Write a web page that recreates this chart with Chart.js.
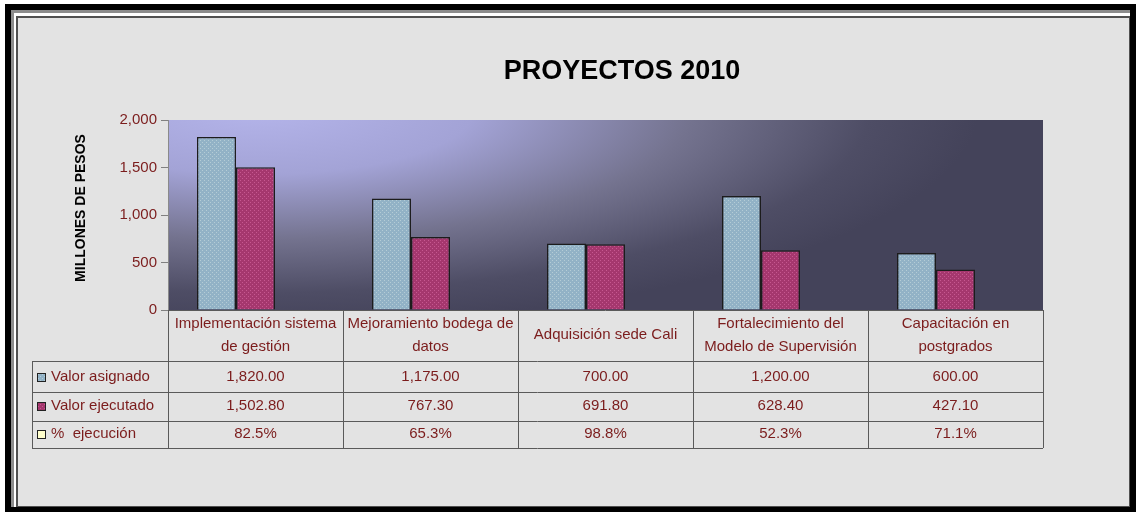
<!DOCTYPE html>
<html>
<head>
<meta charset="utf-8">
<script src="https://cdn.jsdelivr.net/npm/chart.js@4"></script>
<style>
  html, body { margin: 0; padding: 0; background: #ffffff; }
  canvas { display: block; }
</style>
</head>
<body>
<canvas id="graficoProyectos" width="1137" height="515"></canvas>
<script>
// --- DATOS ---
const categorias = [
  ['Implementación sistema', 'de gestión'],
  ['Mejoramiento bodega de', 'datos'],
  ['Adquisición sede Cali'],
  ['Fortalecimiento del', 'Modelo de Supervisión'],
  ['Capacitación en', 'postgrados']
];
const valorAsignado = [1820, 1175, 700, 1200, 600];
const valorEjecutado = [1502.8, 767.3, 691.8, 628.4, 427.1];
// % de ejecucion como fraccion (en la grafica es una barra casi invisible)
const porcentajeEjecucion = [0.825, 0.653, 0.988, 0.523, 0.711];
const nombresSeries = ['Valor asignado', 'Valor ejecutado', '%  ejecución'];
const ticksY = [0, 500, 1000, 1500, 2000];

const FUENTE = '"Liberation Sans", Arial, sans-serif';
const ROJO_TEXTO = '#7b1c1c';

function formatoMiles(n, dec) {
  const partes = n.toFixed(dec).split('.');
  partes[0] = partes[0].replace(/\B(?=(\d{3})+(?!\d))/g, ',');
  return partes.join('.');
}

// trama punteada de las barras (estilo Excel)
function trama(base, punto) {
  const c = document.createElement('canvas');
  c.width = 4; c.height = 4;
  const g = c.getContext('2d');
  g.fillStyle = base; g.fillRect(0, 0, 4, 4);
  g.fillStyle = punto;
  g.fillRect(0, 0, 1, 1); g.fillRect(2, 2, 1, 1);
  return g.createPattern(c, 'repeat');
}
const colorAsignado = trama('#92b2c6', '#b4ccd6');
const colorEjecutado = trama('#a5376e', '#c65890');
const colorPorcentaje = '#ffffcc';

// marco, fondo degradado, titulo y tabla de datos
const pluginExcel = {
  id: 'pluginExcel',
  beforeDraw(chart) {
    const ctx = chart.ctx;
    const a = chart.chartArea;
    ctx.save();
    ctx.fillStyle = '#ffffff'; ctx.fillRect(0, 0, 1137, 515);
    ctx.fillStyle = '#000000'; ctx.fillRect(5, 4, 1131, 508);
    ctx.fillStyle = '#8c8c8c'; ctx.fillRect(11, 10, 1119, 497);
    ctx.fillStyle = '#ffffff'; ctx.fillRect(14, 13, 1116, 494);
    ctx.fillStyle = '#505050'; ctx.fillRect(16, 16, 1114, 491);
    ctx.fillStyle = '#e3e3e3'; ctx.fillRect(18, 18, 1111, 488);

    // degradado del area de trazado
    ctx.beginPath();
    ctx.rect(a.left, a.top, a.right - a.left, a.bottom - a.top);
    ctx.clip();
    const rx = 720, ry = 215;
    ctx.translate(a.left + 90, a.top - 10);
    ctx.scale(1, ry / rx);
    const grad = ctx.createRadialGradient(0, 0, 0, 0, 0, rx);
    grad.addColorStop(0, '#b4b4ea');
    grad.addColorStop(0.3, '#a3a3d6');
    grad.addColorStop(0.6, '#74738f');
    grad.addColorStop(0.85, '#4e4d65');
    grad.addColorStop(1, '#44435a');
    ctx.fillStyle = grad;
    ctx.fillRect(-rx * 2, -rx * 2, rx * 4, rx * 4);
    ctx.restore();
  },
  afterDraw(chart) {
    const ctx = chart.ctx;
    const a = chart.chartArea;
    const x = chart.scales.x;
    const n = categorias.length;
    const ancho = (a.right - a.left) / n;
    ctx.save();

    // titulo
    ctx.fillStyle = '#000000';
    ctx.font = 'bold 27px ' + FUENTE;
    ctx.textAlign = 'center';
    ctx.textBaseline = 'middle';
    ctx.fillText('PROYECTOS 2010', 622, 72);

    // titulo del eje Y
    ctx.save();
    ctx.translate(81, 208);
    ctx.rotate(-Math.PI / 2);
    ctx.font = 'bold 14px ' + FUENTE;
    ctx.fillText('MILLONES DE PESOS', 0, 0);
    ctx.restore();

    // tabla
    const yCab = a.bottom, yF1 = 361, yF2 = 391.5, yF3 = 420.5, yFin = 448;
    const xIzq = 32;
    ctx.strokeStyle = '#5a5a5a';
    ctx.lineWidth = 1;
    ctx.beginPath();
    ctx.moveTo(a.left, yCab + 0.5); ctx.lineTo(a.right, yCab + 0.5);
    [yF1, yF2, yF3, yFin].forEach(y => {
      ctx.moveTo(xIzq, Math.round(y) + 0.5); ctx.lineTo(a.right, Math.round(y) + 0.5);
    });
    ctx.moveTo(xIzq + 0.5, yF1); ctx.lineTo(xIzq + 0.5, yFin);
    for (let i = 0; i <= n; i++) {
      const xx = Math.round(a.left + i * ancho) + 0.5;
      ctx.moveTo(xx, yCab); ctx.lineTo(xx, yFin);
    }
    ctx.stroke();

    ctx.fillStyle = ROJO_TEXTO;
    ctx.font = '15px ' + FUENTE;
    ctx.textAlign = 'center';
    ctx.textBaseline = 'middle';
    categorias.forEach((lineas, i) => {
      const cx = x.getPixelForValue(i);
      if (lineas.length === 1) {
        ctx.fillText(lineas[0], cx, 335);
      } else {
        ctx.fillText(lineas[0], cx, 324);
        ctx.fillText(lineas[1], cx, 347);
      }
      ctx.fillText(formatoMiles(valorAsignado[i], 2), cx, 377);
      ctx.fillText(formatoMiles(valorEjecutado[i], 2), cx, 406);
      ctx.fillText((porcentajeEjecucion[i] * 100).toFixed(1) + '%', cx, 434);
    });

    // leyenda de la tabla
    const filas = [377, 406, 434];
    const colores = [colorAsignado, colorEjecutado, colorPorcentaje];
    ctx.textAlign = 'left';
    filas.forEach((y, k) => {
      ctx.fillStyle = colores[k];
      ctx.fillRect(37, y - 4, 8, 8);
      ctx.strokeStyle = '#222222';
      ctx.strokeRect(37.5, y - 3.5, 8, 8);
      ctx.fillStyle = ROJO_TEXTO;
      ctx.fillText(nombresSeries[k], 51, y);
    });
    ctx.restore();
  }
};

new Chart(document.getElementById('graficoProyectos'), {
  type: 'bar',
  data: {
    labels: categorias,
    datasets: [{
      label: nombresSeries[0],
      data: valorAsignado,
      backgroundColor: colorAsignado,
      borderColor: '#1c1c1c',
      borderWidth: 1.5
    }, {
      label: nombresSeries[1],
      data: valorEjecutado,
      backgroundColor: colorEjecutado,
      borderColor: '#1c1c1c',
      borderWidth: 1.5
    }, {
      // barra de altura < 1 px: ocupa su hueco pero no se ve
      label: nombresSeries[2],
      data: porcentajeEjecucion,
      backgroundColor: 'rgba(255,255,204,0)',
      borderWidth: 0
    }]
  },
  options: {
    responsive: false,
    animation: false,
    layout: { padding: { top: 120, bottom: 205, left: 0, right: 94 } },
    datasets: { bar: { barPercentage: 1, categoryPercentage: 0.669 } },
    plugins: {
      legend: { display: false },
      title: { display: false },
      tooltip: { enabled: false }
    },
    scales: {
      x: { display: false },
      y: {
        min: 0,
        max: 2000,
        afterFit(scale) { scale.width = 168; },
        afterBuildTicks(scale) { scale.ticks = ticksY.map(v => ({ value: v })); },
        grid: { drawOnChartArea: false, drawTicks: true, tickLength: 7, color: '#808080' },
        border: { color: '#8a8a8a' },
        ticks: {
          padding: 4,
          color: ROJO_TEXTO,
          font: { family: FUENTE, size: 15 },
          callback: v => formatoMiles(v, 0)
        }
      }
    }
  },
  plugins: [pluginExcel]
});
</script>
</body>
</html>
